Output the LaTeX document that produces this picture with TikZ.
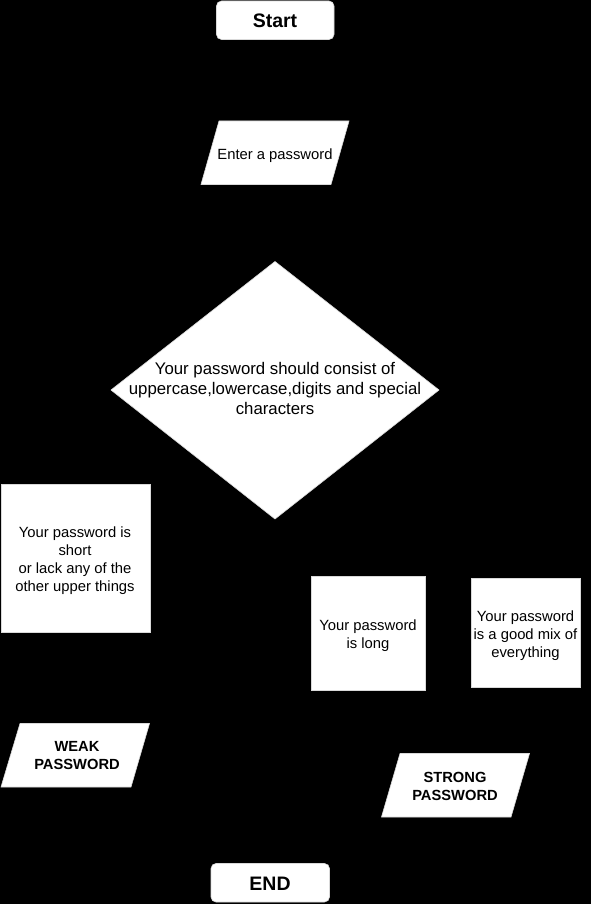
\documentclass[tikz,border=0pt]{standalone}
\usepackage{fontspec}
\setmainfont{Liberation Sans}
\begin{document}
\begin{tikzpicture}[x=1pt,y=-1pt,
  shapefill/.style={fill=white,draw=white!85!black,line width=0.6pt},
  txt/.style={align=center,text=black,inner sep=0pt},
  normaltxt/.style={txt,font=\fontsize{14.8}{18}\selectfont},
  bigtxt/.style={txt,font=\fontsize{16.8}{20}\selectfont},
  titletxt/.style={txt,font=\bfseries\fontsize{19.5}{22}\selectfont},
  resulttxt/.style={txt,font=\bfseries\fontsize{14.7}{18}\selectfont}]
\fill[black] (0,0) rectangle (591,904);
\useasboundingbox (0,0) rectangle (591,904);
% shapes
\draw[shapefill,rounded corners=5pt] (216.5,1) rectangle (334,39.5);
\draw[shapefill] (219,121) -- (349,121) -- (331,184.5) -- (201,184.5) -- cycle;
\draw[shapefill] (275,261.5) -- (439,390) -- (275,519) -- (111,390) -- cycle;
\draw[shapefill] (1,484) rectangle (150,632);
\draw[shapefill] (311,576) rectangle (425,690);
\draw[shapefill] (471,578) rectangle (580,687);
\draw[shapefill] (20,723.5) -- (149.5,723.5) -- (131,787) -- (1,787) -- cycle;
\draw[shapefill] (400,753.5) -- (529.5,753.5) -- (511,817) -- (381.5,817) -- cycle;
\draw[shapefill,rounded corners=5pt] (211,863.5) rectangle (329.5,902);
% texts
\node[titletxt] (start) at (275,21) {Start};
\node[normaltxt] (enter) at (275,156) {Enter a password};
\node[bigtxt] (check) at (275,388.5) {Your password should consist of\\uppercase,lowercase,digits and special\\characters};
\node[normaltxt] (short) at (75,561) {Your password is\\short\\or lack any of the\\other upper things};
\node[normaltxt] (long) at (368,636) {Your password\\is long};
\node[normaltxt] (mix) at (525.5,636) {Your password\\is a good mix of\\everything};
\node[resulttxt] (weak) at (77,756) {WEAK\\PASSWORD};
\node[resulttxt] (strong) at (455,786) {STRONG\\PASSWORD};
\node[titletxt] (end) at (270,884) {END};
\end{tikzpicture}
\end{document}
